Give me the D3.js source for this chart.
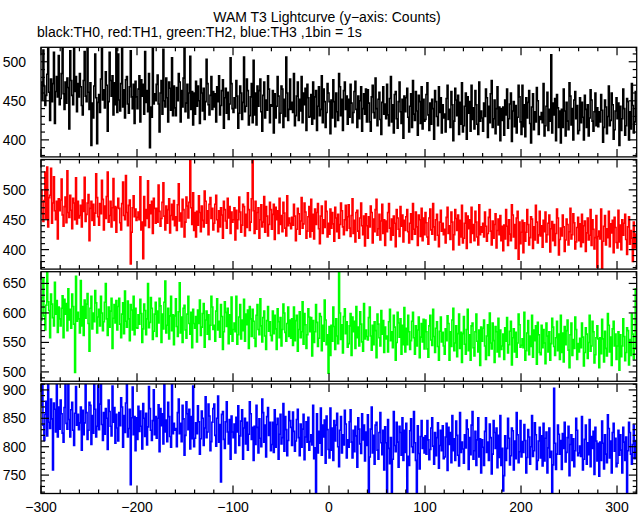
<!DOCTYPE html>
<html><head><meta charset="utf-8">
<script src="https://cdn.jsdelivr.net/npm/d3@7"></script>
<style>body{margin:0;background:#fff}svg{display:block}text{font-family:"Liberation Sans",Arial,sans-serif}</style>
</head><body>
<svg id="c" width="643" height="515"></svg>
<script>
// bin start times (s), 1 bin = 1 s
const tStart = -300;
const xTickLabels = [-300,-200,-100,0,100,200,300];
const title = "WAM T3 Lightcurve (y\u2212axis: Counts)";
const subtitle = "black:TH0, red:TH1, green:TH2, blue:TH3 ,1bin = 1s";
const seriesNames = ["TH0","TH1","TH2","TH3"];
const seriesColors = ["#000000","#ff0000","#00ff00","#0000ff"];

const th0 = [
474,451,515,469,444,457,484,521,461,425,478,449,472,512,421,462,481,455,508,445,
453,485,524,459,439,474,447,479,467,414,514,476,457,445,519,462,481,436,472,455,
485,468,444,432,476,513,456,449,522,461,439,473,393,447,428,469,510,454,395,448,
458,435,478,517,451,464,441,487,470,411,449,512,476,456,482,432,473,445,520,435,
510,451,437,472,523,442,464,428,477,481,446,434,468,514,455,440,471,421,475,455,
440,465,482,423,477,456,471,433,513,448,463,436,485,390,442,429,519,446,459,450,
471,483,446,410,460,476,433,516,450,442,479,454,423,474,466,438,505,431,469,441,
431,467,450,485,474,423,463,442,479,518,436,447,471,428,460,507,439,462,419,460,
433,475,443,469,450,421,478,460,437,466,426,449,503,472,445,432,457,481,439,462,
442,459,423,468,449,482,432,444,463,477,415,454,466,434,461,426,446,505,472,440,
435,454,441,476,456,415,434,469,460,426,448,506,436,443,478,463,419,431,455,472,
422,502,432,460,419,469,443,463,478,436,411,457,474,428,451,438,482,465,422,445,
443,463,409,459,428,443,481,456,422,434,469,465,416,452,430,506,460,425,439,478,
439,448,435,485,418,431,456,474,425,452,437,481,422,460,445,466,412,471,454,429,
430,458,420,474,427,455,463,412,443,468,431,439,482,422,465,449,416,435,472,460,
449,408,451,428,477,449,417,460,436,425,485,468,431,452,412,463,474,439,456,420,
452,429,471,447,422,435,462,475,439,416,456,427,450,468,411,440,459,433,465,423,
464,447,423,411,455,470,435,428,479,440,418,452,461,426,407,448,468,433,446,427,
471,432,418,453,481,423,445,409,458,462,427,415,449,474,436,421,452,402,456,436,
454,466,429,410,443,459,416,476,433,425,462,437,406,457,449,421,468,414,452,424,
426,458,473,432,412,447,420,452,440,401,463,449,430,418,468,435,454,409,445,428,
433,410,453,470,426,439,416,462,445,399,424,466,451,431,457,407,448,420,473,410,
418,443,460,401,455,434,449,411,470,426,441,414,463,445,420,407,474,424,437,428,
411,447,430,465,454,403,443,422,459,476,416,427,451,408,440,468,419,442,399,440,
425,442,406,451,432,465,415,427,446,460,398,437,449,417,444,409,429,470,455,423,
407,470,417,445,404,454,428,448,463,421,396,442,459,413,436,423,467,450,407,430,
426,435,422,472,405,418,443,461,412,439,424,509,409,447,432,453,399,458,441,416,
437,396,439,416,465,437,405,448,424,413,473,456,419,440,400,451,462,427,444,408,
412,454,422,448,429,400,457,439,416,445,405,428,464,451,424,411,436,460,418,441,
417,436,423,458,438,397,416,451,442,408,430,469,418,425,460,445,401,413,437,454,
427,447,393,443,412,427,465,440,406,418,453,449,400,436,414,472,444,409,423,462];

const th1 = [
500,461,447,482,530,452,538,438,487,491,536,444,478,522,465,450,481,418,485,465,
483,518,458,439,472,488,445,532,462,454,491,466,435,486,478,450,520,443,481,453,
457,474,438,483,464,521,447,459,478,492,415,469,481,449,476,441,461,527,487,455,
441,477,460,516,484,433,473,452,489,530,446,457,481,438,470,519,449,472,429,470,
486,469,445,433,477,513,457,450,524,462,440,474,483,376,429,470,490,455,468,449,
454,463,450,522,433,446,385,489,440,467,452,515,437,475,460,481,427,486,469,444,
469,446,508,464,439,452,479,512,456,433,473,444,467,485,428,457,476,450,482,440,
455,432,475,510,448,461,438,484,467,421,446,488,473,453,479,556,470,442,495,432,
462,421,464,441,490,462,430,473,449,438,498,481,444,465,425,476,487,452,469,433,
444,476,491,450,430,465,438,470,458,419,481,467,448,436,486,453,472,427,463,446,
450,470,416,466,435,450,488,463,429,441,476,472,423,459,437,495,467,432,446,485,
552,465,427,481,434,462,470,419,450,475,438,446,489,429,472,456,423,442,479,467,
434,459,476,417,471,450,465,427,486,442,457,430,479,461,436,423,490,440,453,444,
435,454,441,476,456,415,434,469,460,426,448,487,436,443,478,463,419,431,455,472,
421,484,431,459,418,468,442,462,477,435,410,456,473,427,450,437,481,464,421,444,
426,468,436,462,443,414,471,453,430,459,419,442,478,465,438,425,450,474,432,455,
475,436,422,457,485,427,449,413,462,466,431,419,453,478,440,425,456,406,460,440,
419,455,438,473,462,411,451,430,467,484,424,435,459,416,448,476,427,450,407,448,
430,462,477,436,416,451,424,456,444,405,467,453,434,422,472,439,458,413,449,432,
455,467,430,411,444,460,417,477,434,426,463,438,407,458,450,422,469,415,453,425,
462,445,421,409,453,468,433,426,477,438,416,450,459,424,405,446,466,431,444,425,
434,411,454,471,427,440,417,463,446,400,425,467,452,432,458,408,449,421,474,411,
419,444,461,402,456,435,450,412,471,427,442,415,464,446,421,408,475,425,438,429,
444,421,463,439,414,427,454,467,431,408,448,419,442,460,403,432,451,425,457,415,
439,398,441,418,467,439,407,450,426,415,475,458,421,442,402,453,464,384,446,410,
429,449,395,445,414,429,467,442,408,420,455,451,402,438,416,474,446,411,425,464,
423,440,404,449,430,463,413,425,444,458,396,435,447,415,442,407,427,468,453,391,
417,436,423,458,438,397,416,451,442,408,430,469,418,425,460,445,401,413,437,454,
415,443,405,459,412,440,448,397,428,453,416,424,467,407,450,434,401,420,457,370,
422,431,418,468,368,414,439,457,408,435,420,464,405,443,428,449,395,454,437,412,
403,466,413,441,400,450,424,444,459,417,392,438,455,409,432,419,380,446,403,426];

const th2 = [
588,626,658,595,571,613,672,619,604,558,632,615,592,578,652,598,621,567,610,590,
578,608,629,558,623,598,616,570,641,588,606,574,632,611,581,499,662,586,601,590,
566,655,578,611,562,622,591,615,633,582,535,608,628,573,600,585,638,617,566,593,
606,578,628,600,570,585,618,650,590,562,610,576,603,625,540,591,614,583,621,571,
611,625,581,558,598,617,565,637,586,576,620,590,553,614,605,571,628,563,608,575,
574,597,581,623,599,550,573,615,604,563,590,650,575,584,626,608,555,569,598,618,
560,603,583,625,612,550,598,573,618,654,566,579,608,556,595,628,570,597,546,595,
624,577,560,602,651,566,593,550,608,613,571,557,598,628,582,564,601,541,606,582,
574,594,551,605,582,622,562,576,599,616,542,588,603,564,597,555,579,628,610,572,
579,552,603,624,571,586,559,614,594,538,568,619,601,577,608,548,597,564,627,552,
572,583,568,628,547,563,593,614,556,588,570,623,552,598,580,605,540,611,590,560,
606,586,557,543,596,614,572,563,624,578,551,592,603,561,538,587,611,569,585,562,
553,603,565,596,573,538,607,585,558,592,544,572,615,600,567,552,582,610,560,588,
557,590,545,610,553,587,596,535,572,602,558,568,619,547,599,580,540,563,607,593,
568,592,527,587,550,568,614,584,543,557,599,594,536,579,552,622,588,546,563,498,
577,528,579,552,610,577,538,590,561,548,668,600,555,580,532,594,607,565,585,542,
548,578,599,528,593,568,586,540,611,558,576,544,602,581,551,535,616,556,571,560,
554,592,610,561,537,579,546,585,570,524,598,581,558,544,604,564,587,533,576,556,
561,534,585,606,553,568,541,596,576,520,550,601,583,559,590,530,579,546,609,534,
574,546,596,568,538,553,586,601,558,530,578,544,571,593,524,559,582,551,589,539,
588,568,539,525,578,596,554,545,606,560,533,574,585,543,520,569,593,551,567,544,
530,573,553,595,582,520,568,543,588,608,536,549,578,526,565,598,540,567,516,565,
594,547,530,572,606,536,563,520,578,583,541,527,568,598,552,534,571,511,576,552,
574,588,544,521,561,580,528,600,549,539,583,553,516,577,568,534,591,526,571,538,
544,564,521,575,552,592,532,546,569,586,512,558,573,534,567,525,549,598,580,542,
545,556,541,601,520,536,566,587,529,561,543,596,525,571,553,578,513,584,563,533,
529,579,541,572,549,514,583,561,534,568,520,548,591,576,543,528,558,586,536,564,
521,596,533,566,517,577,546,570,588,537,507,563,583,528,555,540,593,572,521,548,
534,557,541,583,559,510,533,575,564,523,550,596,535,544,586,568,515,529,558,578,
556,507,558,531,589,556,517,569,540,527,599,579,534,559,511,573,586,544,564,521,
544,568,503,563,526,544,590,560,519,533,575,570,512,555,528,598,564,522,539,641];

const th3 = [
873,912,838,811,857,880,819,918,843,832,884,849,759,877,866,826,910,817,870,831,
882,858,824,808,869,912,841,831,915,848,817,865,878,829,802,859,906,838,857,830,
842,870,794,864,821,842,913,860,813,829,878,873,804,855,824,916,866,817,836,908,
830,875,914,839,811,860,822,867,850,795,882,862,836,819,907,843,869,806,857,833,
810,860,837,886,870,799,855,825,877,915,817,832,866,733,851,905,821,853,793,851,
813,871,827,863,836,796,876,850,818,859,803,835,906,867,829,811,846,900,821,853,
815,850,874,791,867,837,858,805,909,826,847,809,878,853,818,799,911,823,841,829,
832,800,860,884,823,841,809,873,849,785,820,879,858,830,866,796,853,814,907,800,
815,842,823,872,844,787,814,863,850,802,833,888,816,826,875,854,793,809,843,867,
875,820,801,850,889,808,839,738,857,862,813,797,844,879,826,805,848,778,854,826,
816,840,789,852,826,872,802,819,845,865,778,833,850,805,843,794,822,879,858,813,
834,776,836,804,873,834,789,849,815,800,884,860,808,838,782,853,869,820,843,793,
804,843,790,865,799,839,850,778,822,857,805,816,876,792,853,830,784,811,862,846,
834,802,861,827,792,810,848,866,816,784,840,799,831,857,777,817,844,808,852,794,
809,821,803,873,779,798,712,858,789,827,806,868,785,838,817,847,771,854,830,795,
780,868,794,833,776,846,810,838,859,800,765,829,853,789,821,803,864,840,780,812,
799,844,865,808,780,829,791,836,819,764,851,831,805,788,858,812,838,775,826,802,
856,710,782,831,870,789,820,769,838,843,794,778,825,860,807,786,829,759,835,807,
714,848,797,770,816,716,778,862,802,791,843,808,764,836,825,785,851,776,829,790,
841,708,783,767,828,849,800,790,862,807,776,715,837,788,761,818,846,797,816,789,
819,787,846,812,777,795,833,851,801,769,825,784,816,842,762,802,829,793,837,779,
782,817,841,758,834,804,825,772,855,793,814,776,845,820,785,766,860,790,808,796,
771,821,798,847,831,760,816,786,838,862,778,793,827,767,812,851,782,814,754,812,
799,767,827,851,790,808,776,840,816,752,787,846,825,797,833,763,820,781,855,767,
797,722,749,819,776,797,850,815,768,784,833,828,759,810,779,860,821,772,791,846,
782,809,790,839,811,754,781,830,817,769,800,855,783,793,842,821,760,776,810,834,
780,819,766,841,775,815,826,754,798,833,781,792,718,768,903,806,760,787,838,822,
787,811,760,823,797,843,773,790,816,836,749,804,821,776,814,765,793,850,829,784,
789,801,783,853,759,778,813,838,769,807,786,848,765,818,797,827,751,834,810,775,
806,748,808,776,845,806,761,821,787,772,856,832,780,810,754,825,841,792,815,765,
771,829,785,821,794,754,834,808,776,817,712,793,843,825,787,769,804,838,779,811];

const yTickMajors = [[400,450,500],[400,450,500],[500,550,600,650],[750,800,850,900]];
const yDomains = [[378.2,518.5],[367.4,550.8],[484.1,669.9],[717.6,910.6]];
const seriesList = [th0, th1, th2, th3];

const svg = d3.select("#c");
const left = 41, right = 636.7;
const panelTop0 = 47.3, panelStep = 112.2, panelH = 109.6;

const x = d3.scaleLinear().domain([-300, 320.5]).range([left, right]);

svg.append("text").attr("x", 327).attr("y", 22).attr("text-anchor","middle")
  .attr("font-size", 14).text(title);
svg.append("text").attr("x", 37).attr("y", 37).attr("font-size", 14).text(subtitle);

seriesList.forEach((data, i) => {
  const top = panelTop0 + i * panelStep, bot = top + panelH;
  const y = d3.scaleLinear().domain(yDomains[i]).range([bot, top]);
  const g = svg.append("g");
  const cid = "clip" + i;
  svg.append("clipPath").attr("id", cid).append("rect")
    .attr("x", left).attr("y", top).attr("width", right - left).attr("height", panelH);
  const pts = data.map((v, k) => [tStart + k, v]);
  pts.push([tStart + data.length, data[data.length - 1]]);
  const line = d3.line().x(d => x(d[0])).y(d => y(d[1])).curve(d3.curveStepAfter);
  g.append("path").attr("d", line(pts)).attr("fill","none")
    .attr("stroke", seriesColors[i]).attr("stroke-width", 1.6)
    .attr("stroke-linejoin","miter")
    .attr("clip-path", `url(#${cid})`);

  g.append("rect").attr("x", left).attr("y", top).attr("width", right - left).attr("height", panelH)
    .attr("fill","none").attr("stroke","#000").attr("stroke-width",1.3);

  const [d0, d1] = yDomains[i];
  d3.range(Math.ceil(d0/10)*10, d1, 10).forEach(v => {
    const len = yTickMajors[i].includes(v) ? 8 : 4;
    const yy = y(v);
    g.append("line").attr("x1", left).attr("x2", left + len).attr("y1", yy).attr("y2", yy)
      .attr("stroke","#000").attr("stroke-width", 1.2);
    g.append("line").attr("x1", right).attr("x2", right - len).attr("y1", yy).attr("y2", yy)
      .attr("stroke","#000").attr("stroke-width", 1.2);
  });
  yTickMajors[i].forEach(v => {
    g.append("text").attr("x", 26).attr("y", y(v) + 5).attr("text-anchor","end")
      .attr("font-size", 14).text(v);
  });

  d3.range(-300, 321, 20).forEach(t => {
    const len = t % 100 === 0 ? 8 : 4;
    const xx = x(t);
    g.append("line").attr("x1", xx).attr("x2", xx).attr("y1", top).attr("y2", top + len)
      .attr("stroke","#000").attr("stroke-width", 1.2);
    g.append("line").attr("x1", xx).attr("x2", xx).attr("y1", bot).attr("y2", bot - len)
      .attr("stroke","#000").attr("stroke-width", 1.2);
  });

  if (i === 3) {
    xTickLabels.forEach(t => {
      g.append("text").attr("x", x(t)).attr("y", 512).attr("text-anchor","middle")
        .attr("font-size", 14).text(String(t).replace("-", "\u2212"));
    });
  }
});
</script>
</body></html>
